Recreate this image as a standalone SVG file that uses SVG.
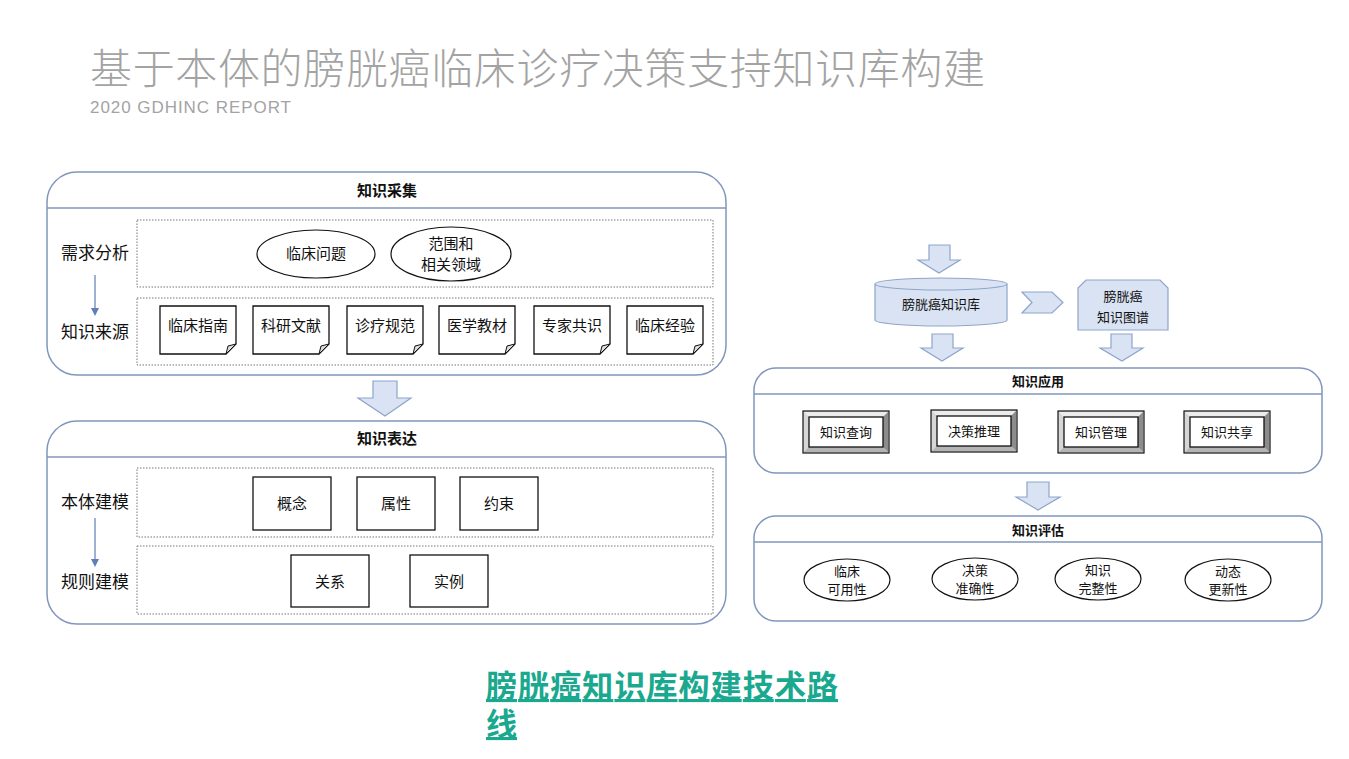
<svg xmlns="http://www.w3.org/2000/svg" width="1349" height="759" viewBox="0 0 1349 759">
<style>
text{font-family:"Noto Sans CJK SC","Liberation Sans",sans-serif;fill:#111}
.panel{fill:#fff;stroke:#8096bd;stroke-width:1.5}
.hline{stroke:#8096bd;stroke-width:1.5}
.ptitle{font-size:15px;font-weight:bold;text-anchor:middle}
.dot{fill:none;stroke:#777;stroke-width:1;stroke-dasharray:1.5 1.5}
.lab{font-size:17px;text-anchor:middle}
.box{fill:#fff;stroke:#111;stroke-width:1.3}
.bt{font-size:15px;text-anchor:middle}
.st{font-size:13px;text-anchor:middle}
.blk{fill:#dae3f3;stroke:#8ea5cb;stroke-width:1.2}
.ell{fill:#fff;stroke:#111;stroke-width:1.2}
.fold{fill:#ddd;stroke:#111;stroke-width:1}
.bo{fill:#d6d6d6;stroke:#111;stroke-width:1.2}
.bT{fill:#ececec}
.bR{fill:#8c8c8c}
.bB{fill:#b4b4b4}
.cap{font-size:31px;font-weight:bold;fill:#1aa88f;text-decoration:underline}
</style>
<defs>
<marker id="ah" markerWidth="8" markerHeight="8" refX="4" refY="4" orient="auto" markerUnits="userSpaceOnUse">
<path d="M0,0 L8,4 L0,8 z" fill="#5f7fb5"/>
</marker>
</defs>

<g id="title">
<text x="90" y="84" textLength="895" style="font-size:42px;font-weight:300;fill:#a3a3a3">基于本体的膀胱癌临床诊疗决策支持知识库构建</text>
<text x="90" y="113" textLength="201" style="font-family:'Liberation Sans',sans-serif;font-size:17px;fill:#a3a3a3">2020 GDHINC REPORT</text>
</g>

<g id="panel-acquire">
<rect class="panel" x="47" y="172" width="679" height="203" rx="30"/>
<line class="hline" x1="47" y1="208" x2="726" y2="208"/>
<text class="ptitle" x="387" y="196">知识采集</text>
<rect class="dot" x="137" y="220" width="576" height="67"/>
<rect class="dot" x="137" y="298" width="576" height="67"/>
<text class="lab" x="95" y="259">需求分析</text>
<text class="lab" x="95" y="338">知识来源</text>
</g>
<g id="e-clinical-q"><ellipse class="ell" cx="316" cy="254" rx="59" ry="24"/><text class="bt" x="316" y="259">临床问题</text></g>
<g id="e-scope"><ellipse class="ell" cx="451" cy="254" rx="60" ry="27"/><text class="bt" x="451" y="249">范围和</text><text class="bt" x="451" y="270">相关领域</text></g>

<g id="d1"><path class="box" d="M160,306 h76 v38 l-10,10 h-66 z"/><path class="fold" d="M236,344 l-10,10 l2,-8 z"/><text class="bt" x="198" y="331">临床指南</text></g>
<g id="d2"><path class="box" d="M253,306 h76 v38 l-10,10 h-66 z"/><path class="fold" d="M329,344 l-10,10 l2,-8 z"/><text class="bt" x="291" y="331">科研文献</text></g>
<g id="d3"><path class="box" d="M347,306 h76 v38 l-10,10 h-66 z"/><path class="fold" d="M423,344 l-10,10 l2,-8 z"/><text class="bt" x="385" y="331">诊疗规范</text></g>
<g id="d4"><path class="box" d="M439,306 h76 v38 l-10,10 h-66 z"/><path class="fold" d="M515,344 l-10,10 l2,-8 z"/><text class="bt" x="477" y="331">医学教材</text></g>
<g id="d5"><path class="box" d="M534,306 h76 v38 l-10,10 h-66 z"/><path class="fold" d="M610,344 l-10,10 l2,-8 z"/><text class="bt" x="572" y="331">专家共识</text></g>
<g id="d6"><path class="box" d="M627,306 h76 v38 l-10,10 h-66 z"/><path class="fold" d="M703,344 l-10,10 l2,-8 z"/><text class="bt" x="665" y="331">临床经验</text></g>

<g id="panel-express">
<rect class="panel" x="47" y="421" width="679" height="203" rx="30"/>
<line class="hline" x1="47" y1="457" x2="726" y2="457"/>
<text class="ptitle" x="387" y="444">知识表达</text>
<rect class="dot" x="137" y="468" width="576" height="69"/>
<rect class="dot" x="137" y="546" width="576" height="68"/>
<text class="lab" x="95" y="508">本体建模</text>
<text class="lab" x="95" y="588">规则建模</text>
</g>
<g id="b-concept"><rect class="box" x="253" y="477" width="78" height="53"/><text class="bt" x="292" y="509">概念</text></g>
<g id="b-attr"><rect class="box" x="357" y="477" width="78" height="53"/><text class="bt" x="396" y="509">属性</text></g>
<g id="b-constraint"><rect class="box" x="460" y="477" width="78" height="53"/><text class="bt" x="499" y="509">约束</text></g>
<g id="b-relation"><rect class="box" x="291" y="555" width="78" height="52"/><text class="bt" x="330" y="587">关系</text></g>
<g id="b-instance"><rect class="box" x="410" y="555" width="78" height="52"/><text class="bt" x="449" y="587">实例</text></g>

<g id="kb"><path class="blk" d="M875,284 v36 a66,6 0 0 0 132,0 v-36"/><ellipse class="blk" cx="941" cy="284" rx="66" ry="6"/><text class="st" x="941" y="309">膀胱癌知识库</text></g>
<g id="kg"><path class="blk" d="M1086,280 h74 l8,8 v42 h-90 v-42 z"/><text class="st" x="1123" y="301">膀胱癌</text><text class="st" x="1123" y="322">知识图谱</text></g>

<g id="panel-apply">
<rect class="panel" x="754" y="368" width="568" height="105" rx="22"/>
<line class="hline" x1="754" y1="394" x2="1322" y2="394"/>
<text class="ptitle" x="1038" y="386" style="font-size:13px">知识应用</text>
</g>
<g id="btn1"><rect class="bo" x="803" y="411" width="86" height="42"/><polygon class="bT" points="804,412 888,412 883,417 809,417"/><polygon class="bR" points="888,412 888,452 883,447 883,417"/><polygon class="bB" points="804,452 888,452 883,447 809,447"/><rect class="box" x="809" y="417" width="74" height="30"/><text class="st" x="846" y="437">知识查询</text></g>
<g id="btn2"><rect class="bo" x="931" y="410" width="86" height="42"/><polygon class="bT" points="932,411 1016,411 1011,416 937,416"/><polygon class="bR" points="1016,411 1016,451 1011,446 1011,416"/><polygon class="bB" points="932,451 1016,451 1011,446 937,446"/><rect class="box" x="937" y="416" width="74" height="30"/><text class="st" x="974" y="436">决策推理</text></g>
<g id="btn3"><rect class="bo" x="1058" y="411" width="86" height="42"/><polygon class="bT" points="1059,412 1143,412 1138,417 1064,417"/><polygon class="bR" points="1143,412 1143,452 1138,447 1138,417"/><polygon class="bB" points="1059,452 1143,452 1138,447 1064,447"/><rect class="box" x="1064" y="417" width="74" height="30"/><text class="st" x="1101" y="437">知识管理</text></g>
<g id="btn4"><rect class="bo" x="1184" y="411" width="86" height="42"/><polygon class="bT" points="1185,412 1269,412 1264,417 1190,417"/><polygon class="bR" points="1269,412 1269,452 1264,447 1264,417"/><polygon class="bB" points="1185,452 1269,452 1264,447 1190,447"/><rect class="box" x="1190" y="417" width="74" height="30"/><text class="st" x="1227" y="437">知识共享</text></g>

<g id="panel-eval">
<rect class="panel" x="754" y="516" width="568" height="105" rx="22"/>
<line class="hline" x1="754" y1="542" x2="1322" y2="542"/>
<text class="ptitle" x="1038" y="535" style="font-size:13px">知识评估</text>
</g>
<g id="e1"><ellipse class="ell" cx="847" cy="580" rx="43" ry="21"/><text class="st" x="847" y="576">临床</text><text class="st" x="847" y="594">可用性</text></g>
<g id="e2"><ellipse class="ell" cx="975" cy="579" rx="43" ry="21"/><text class="st" x="975" y="575">决策</text><text class="st" x="975" y="593">准确性</text></g>
<g id="e3"><ellipse class="ell" cx="1098" cy="579" rx="43" ry="21"/><text class="st" x="1098" y="575">知识</text><text class="st" x="1098" y="593">完整性</text></g>
<g id="e4"><ellipse class="ell" cx="1228" cy="580" rx="43" ry="21"/><text class="st" x="1228" y="576">动态</text><text class="st" x="1228" y="594">更新性</text></g>

<g id="connectors">
<line x1="95" y1="275" x2="95" y2="312" stroke="#5f7fb5" stroke-width="1.2" marker-end="url(#ah)"/>
<line x1="95" y1="518" x2="95" y2="563" stroke="#5f7fb5" stroke-width="1.2" marker-end="url(#ah)"/>
<polygon class="blk" points="373,381 397,381 397,398 411,398 385,416 358,398 373,398"/>
<polygon class="blk" points="929,245 950,245 950,260 960,260 939,273 918,260 929,260"/>
<polygon class="blk" points="1022,292 1052,292 1063,302.5 1052,313 1022,313 1032,302.5"/>
<polygon class="blk" points="932,334 953,334 953,348 963,348 942,361 921,348 932,348"/>
<polygon class="blk" points="1111,334 1132,334 1132,348 1143,348 1122,361 1100,348 1111,348"/>
<polygon class="blk" points="1027,482 1049,482 1049,497 1060,497 1038,510 1016,497 1027,497"/>
</g>

<g id="caption">
<text class="cap"><tspan x="486" y="697" textLength="352">膀胱癌知识库构建技术路</tspan><tspan x="486" y="735">线</tspan></text>
</g>
</svg>
